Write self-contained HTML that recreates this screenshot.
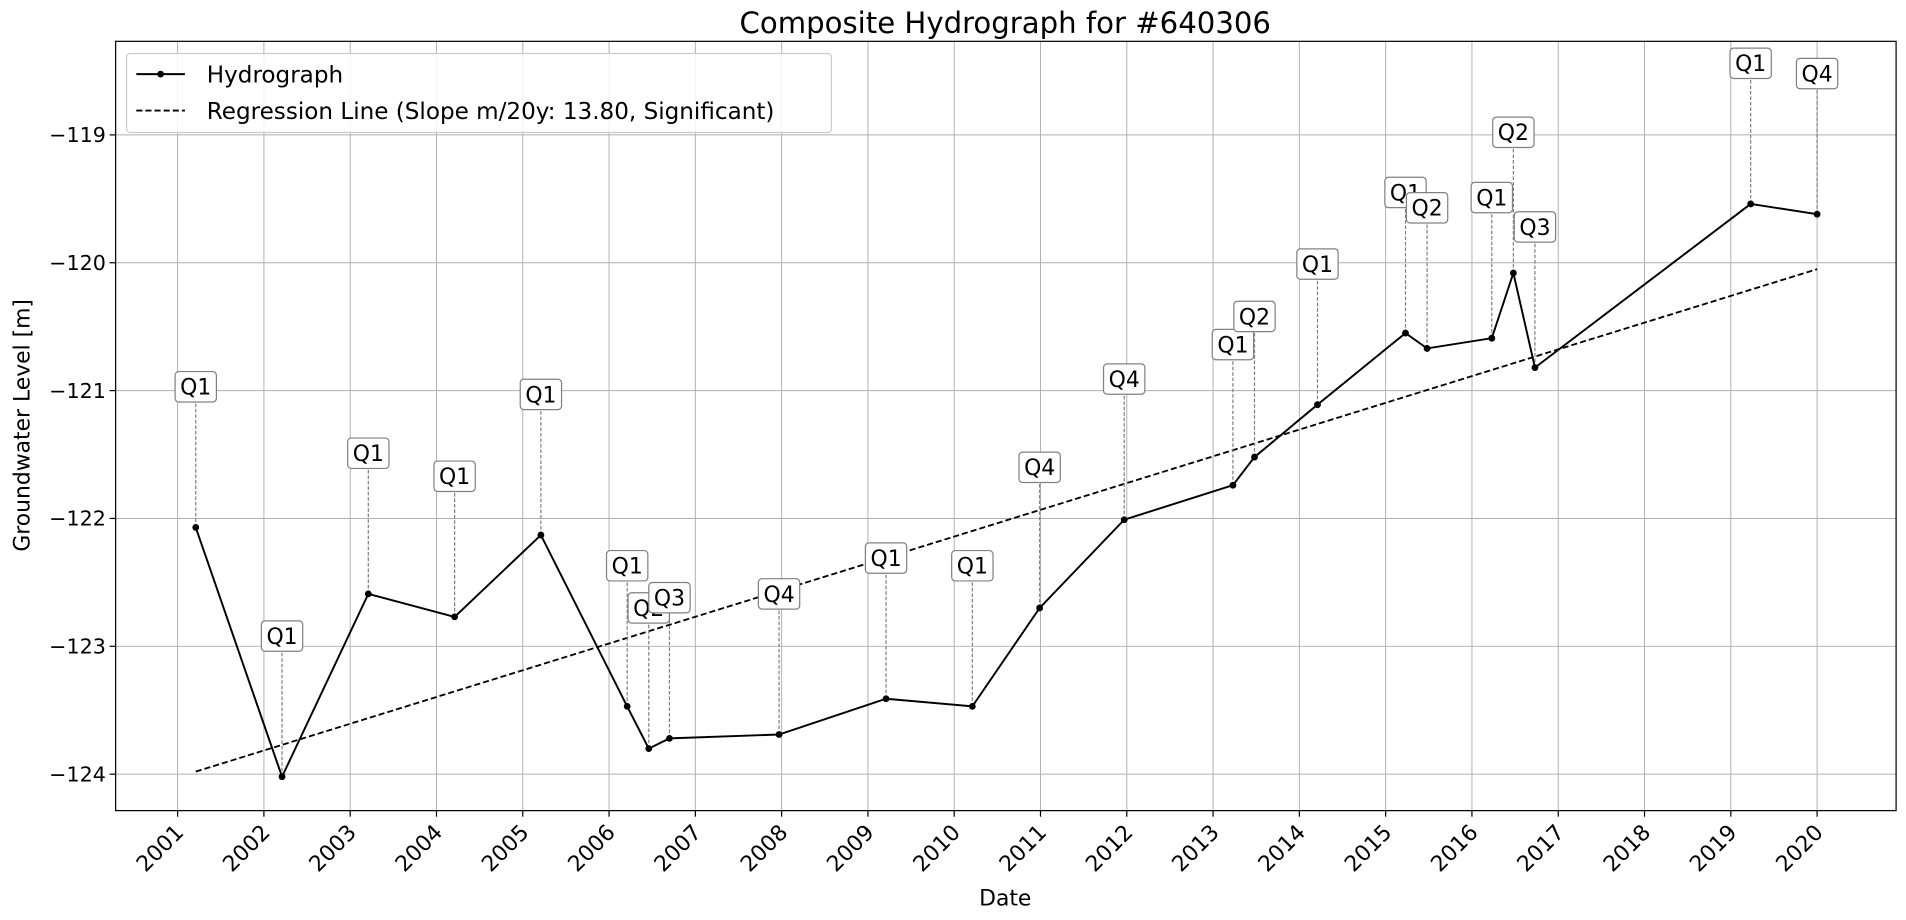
<!DOCTYPE html>
<html><head><meta charset="utf-8"><style>
body{margin:0;background:#fff;}
svg{display:block;font-family:"DejaVu Sans","Liberation Sans",sans-serif;}
</style></head><body>
<svg id="chart" width="1906" height="920" viewBox="0 0 1568 757"></svg>
<script>
const years=[2001.21,2002.21,2003.21,2004.21,2005.21,2006.21,2006.46,2006.70,2007.97,2009.21,2010.21,2010.99,2011.97,2013.23,2013.48,2014.21,2015.23,2015.48,2016.23,2016.48,2016.73,2019.23,2020.0];
const levels=[-122.07,-124.02,-122.59,-122.77,-122.13,-123.47,-123.80,-123.72,-123.69,-123.41,-123.47,-122.70,-122.01,-121.74,-121.52,-121.11,-120.55,-120.67,-120.59,-120.08,-120.82,-119.54,-119.62];
const quarters=["Q1","Q1","Q1","Q1","Q1","Q1","Q2","Q3","Q4","Q1","Q1","Q4","Q4","Q1","Q2","Q1","Q1","Q2","Q1","Q2","Q3","Q1","Q4"];
const regX=[2001.21,2020.0];
const regY=[-123.98,-120.05];
const xTicks=[2001,2002,2003,2004,2005,2006,2007,2008,2009,2010,2011,2012,2013,2014,2015,2016,2017,2018,2019,2020];
const yTicks=[-119,-120,-121,-122,-123,-124];

const NS="http://www.w3.org/2000/svg";
const svg=document.getElementById('chart');
const L=95,R=1560,T=34,B=667;
const xs=v=>146+(v-2001)*(1349/19);
const ys=v=>111+(-119-v)*105.2;
function el(tag,attrs,parent){const e=document.createElementNS(NS,tag);for(const k in attrs)e.setAttribute(k,attrs[k]);(parent||svg).appendChild(e);return e;}

xTicks.forEach(t=>{const g=el('line',{x1:xs(t),x2:xs(t),y1:T,y2:B,stroke:'#b0b0b0','stroke-width':0.8});

});
yTicks.forEach(t=>{const g=el('line',{x1:L,x2:R,y1:ys(t),y2:ys(t),stroke:'#b0b0b0','stroke-width':0.8});

});
const fr=el('rect',{x:L,y:T,width:R-L,height:B-T,fill:'none',stroke:'#000','stroke-width':1});


xTicks.forEach(t=>{const x=xs(t);el('line',{x1:x,x2:x,y1:B,y2:B+5,stroke:'#000'});
const tx=el('text',{x:x+6,y:B+19,'font-size':18,'text-anchor':'end',transform:`rotate(-45 ${x+6} ${B+19})`});tx.textContent=t;

});
yTicks.forEach(t=>{const y=ys(t);el('line',{x1:L-5,x2:L,y1:y,y2:y,stroke:'#000'});
const tx=el('text',{x:L-8,y:y+6,'font-size':17,'text-anchor':'end'});tx.textContent='\u2212'+Math.abs(t);

});
const reg=el('line',{x1:xs(regX[0]),y1:ys(regY[0]),x2:xs(regX[1]),y2:ys(regY[1]),stroke:'#000','stroke-width':1.5,'stroke-dasharray':'5,2.5'});


years.forEach((yr,i)=>{const x=xs(yr),y=ys(levels[i]),ly=ys(levels[i]+1.1);
const d=el('line',{x1:x,x2:x,y1:y,y2:ly+12,stroke:'#808080','stroke-width':1,'stroke-dasharray':'3,1.5'});


const b=el('rect',{x:x-17,y:ly-12.5,width:34,height:25,rx:3,fill:'#fff',stroke:'#808080','stroke-width':1});


const t=el('text',{x:x,y:ly+6.5,'font-size':18,'text-anchor':'middle'});t.textContent=quarters[i];

});
const pts=years.map((yr,i)=>xs(yr)+','+ys(levels[i])).join(' ');
const pl=el('polyline',{points:pts,fill:'none',stroke:'#000','stroke-width':1.6});


years.forEach((yr,i)=>{const c=el('circle',{cx:xs(yr),cy:ys(levels[i]),r:2.8,fill:'#000'});

});
const ti=el('text',{x:827,y:27,'font-size':24,'text-anchor':'middle'});ti.textContent='Composite Hydrograph for  #640306';


const xl=el('text',{x:827,y:745,'font-size':18,'text-anchor':'middle'});xl.textContent='Date';


const yl=el('text',{x:24,y:350,'font-size':18,'text-anchor':'middle',transform:'rotate(-90 24 350)'});yl.textContent='Groundwater Level [m]';


const lg=el('g',{});


el('rect',{x:104,y:44,width:580,height:65,rx:3,fill:'#fff','fill-opacity':0.85,stroke:'#ccc'},lg);
el('line',{x1:112,x2:152,y1:61,y2:61,stroke:'#000','stroke-width':1.6},lg);
el('circle',{cx:132,cy:61,r:2.8,fill:'#000'},lg);
const l1=el('text',{x:170,y:68,'font-size':19},lg);l1.textContent='Hydrograph';


el('line',{x1:112,x2:152,y1:91,y2:91,stroke:'#000','stroke-width':1.5,'stroke-dasharray':'5,2.5'},lg);
const l2=el('text',{x:170,y:98,'font-size':19},lg);l2.textContent='Regression Line (Slope m/20y: 13.80, Significant)';


</script>
</body></html>
